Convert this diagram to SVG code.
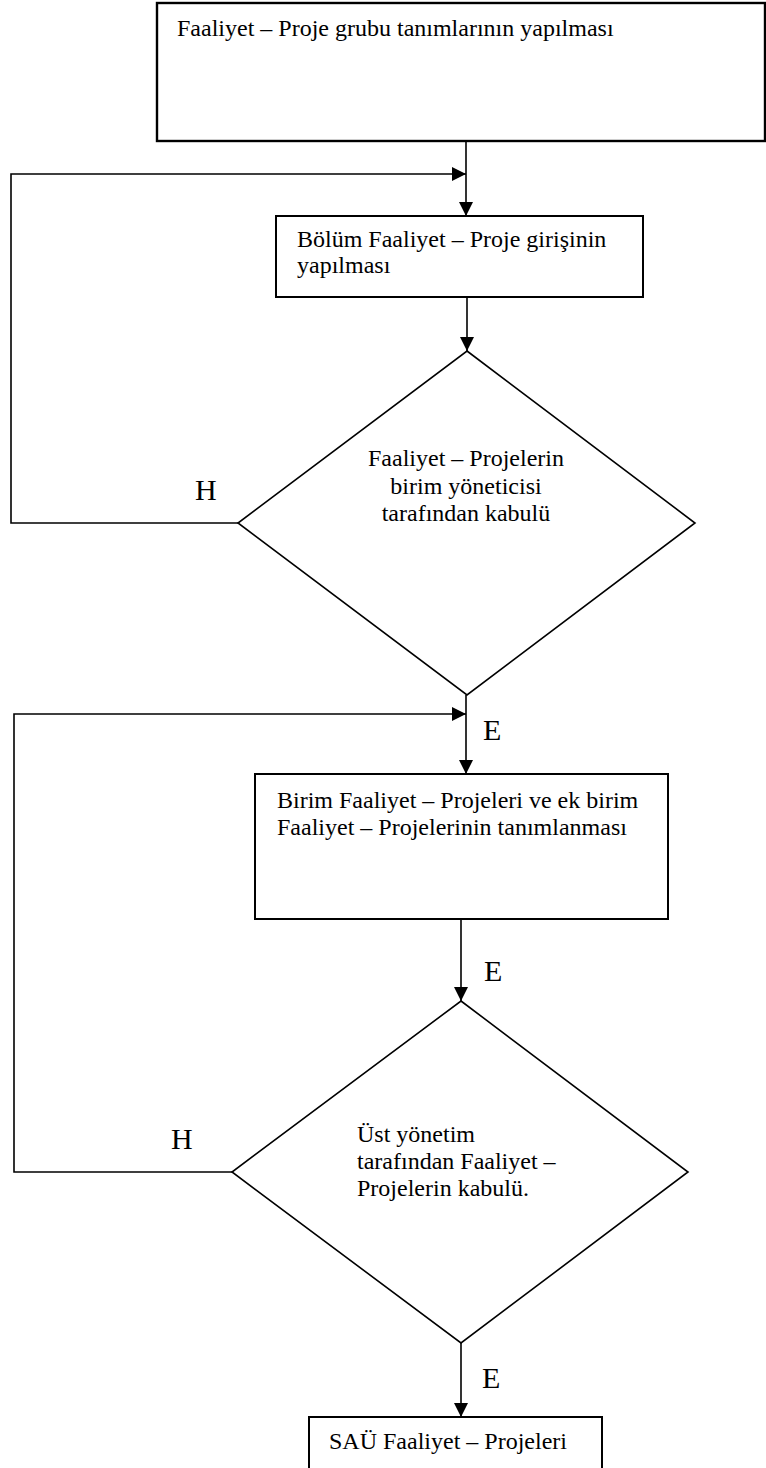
<svg xmlns="http://www.w3.org/2000/svg" width="766" height="1468" viewBox="0 0 766 1468">
  <style>
    .box { fill: #fff; stroke: #000; stroke-width: 2; }
    .dec { fill: #fff; stroke: #000; stroke-width: 1.6; }
    .wire { fill: none; stroke: #000; stroke-width: 1.6; }
    .txt { font-family: "Liberation Serif", "Times New Roman", serif; font-size: 24px; fill: #000; }
    .lbl { font-family: "Liberation Serif", "Times New Roman", serif; font-size: 30px; fill: #000; }
  </style>
  <defs>
    <marker id="arrow" viewBox="0 0 14 14" refX="14" refY="7" markerWidth="14" markerHeight="14" markerUnits="userSpaceOnUse" orient="auto">
      <path d="M0,0 L14,7 L0,14 Z" fill="#000"/>
    </marker>
  </defs>

  <rect width="766" height="1468" fill="#fff"/>

  <!-- connectors -->
  <g id="connectors">
    <line class="wire" x1="466" y1="141" x2="466" y2="216" marker-end="url(#arrow)"/>
    <polyline class="wire" points="238,523 11,523 11,174 466,174" marker-end="url(#arrow)"/>
    <line class="wire" x1="467" y1="297" x2="467" y2="351" marker-end="url(#arrow)"/>
    <line class="wire" x1="466" y1="695" x2="466" y2="774" marker-end="url(#arrow)"/>
    <polyline class="wire" points="232,1172 14,1172 14,714 466,714" marker-end="url(#arrow)"/>
    <line class="wire" x1="461" y1="919" x2="461" y2="1001" marker-end="url(#arrow)"/>
    <line class="wire" x1="461" y1="1343" x2="461" y2="1417" marker-end="url(#arrow)"/>
    <text class="lbl" x="195" y="500">H</text>
    <text class="lbl" x="483" y="740">E</text>
    <text class="lbl" x="484" y="981">E</text>
    <text class="lbl" x="171" y="1149">H</text>
    <text class="lbl" x="482" y="1388">E</text>
  </g>

  <!-- process: group definitions -->
  <g id="node-grup-tanim">
    <rect class="box" x="157" y="3" width="608" height="138" style="stroke-width:2.4"/>
    <text class="txt" x="177" y="36">Faaliyet – Proje grubu tanımlarının yapılması</text>
  </g>

  <!-- process: department entry -->
  <g id="node-bolum-giris">
    <rect class="box" x="276" y="216" width="367" height="81"/>
    <text class="txt" x="297" y="247">Bölüm Faaliyet – Proje girişinin</text>
    <text class="txt" x="297" y="273">yapılması</text>
  </g>

  <!-- decision: unit manager approval -->
  <g id="node-birim-kabul">
    <polygon class="dec" points="467,351 695,523 467,695 238,523"/>
    <text class="txt" text-anchor="middle" x="466" y="466">Faaliyet – Projelerin</text>
    <text class="txt" text-anchor="middle" x="466" y="494">birim yöneticisi</text>
    <text class="txt" text-anchor="middle" x="466" y="521">tarafından kabulü</text>
  </g>

  <!-- process: unit definitions -->
  <g id="node-birim-tanim">
    <rect class="box" x="255" y="774" width="413" height="145"/>
    <text class="txt" x="277" y="808">Birim Faaliyet – Projeleri ve ek birim</text>
    <text class="txt" x="277" y="835">Faaliyet – Projelerinin tanımlanması</text>
  </g>

  <!-- decision: top management approval -->
  <g id="node-ust-kabul">
    <polygon class="dec" points="461,1001 688,1172 461,1343 232,1172"/>
    <text class="txt" x="357" y="1142">Üst yönetim</text>
    <text class="txt" x="357" y="1169">tarafından Faaliyet –</text>
    <text class="txt" x="357" y="1196">Projelerin kabulü.</text>
  </g>

  <!-- result -->
  <g id="node-sau">
    <rect class="box" x="309" y="1417" width="293" height="70"/>
    <text class="txt" x="329" y="1449">SAÜ Faaliyet – Projeleri</text>
  </g>
</svg>
